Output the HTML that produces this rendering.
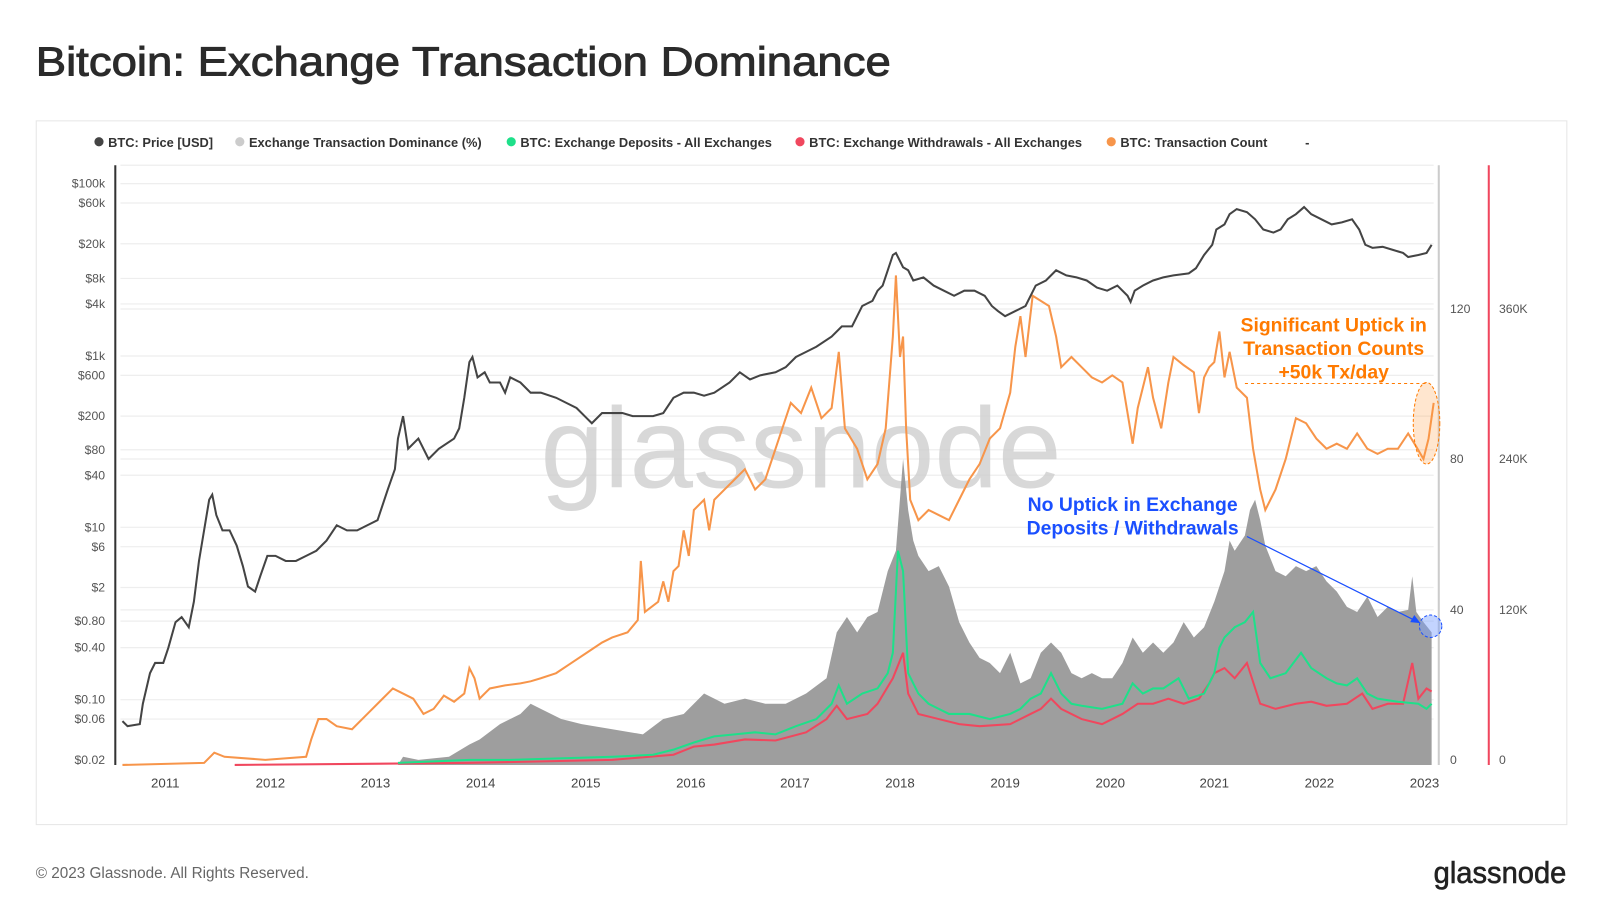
<!DOCTYPE html>
<html><head><meta charset="utf-8"><style>
html,body{margin:0;padding:0;background:#fff;width:1600px;height:921px;overflow:hidden}
svg{display:block}
text{font-family:"Liberation Sans",sans-serif}
</style></head><body>
<svg width="1600" height="921" viewBox="0 0 1568 903" preserveAspectRatio="none" xmlns="http://www.w3.org/2000/svg">
<text x="35" y="74" font-size="40" fill="#2b2b2b" stroke="#2b2b2b" stroke-width="0.9" textLength="838" lengthAdjust="spacingAndGlyphs">Bitcoin: Exchange Transaction Dominance</text>
<rect x="35.5" y="118.5" width="1500" height="690" fill="none" stroke="#e6e6e6"/>
<g font-size="12.6" font-weight="bold" fill="#333">
<circle cx="97" cy="139" r="4.5" fill="#444"/><text x="106" y="144">BTC: Price [USD]</text>
<circle cx="235" cy="139" r="4.5" fill="#ccc"/><text x="244" y="144">Exchange Transaction Dominance (%)</text>
<circle cx="501" cy="139" r="4.5" fill="#1ee08a"/><text x="510" y="144">BTC: Exchange Deposits - All Exchanges</text>
<circle cx="784" cy="139" r="4.5" fill="#f0475e"/><text x="793" y="144">BTC: Exchange Withdrawals - All Exchanges</text>
<circle cx="1089" cy="139" r="4.5" fill="#f7954a"/><text x="1098" y="144">BTC: Transaction Count</text>
<text x="1279" y="144">-</text>
</g>
<g stroke="#eeeeee" stroke-width="1.2">
<line x1="118" x2="1405" y1="162" y2="162"/>
<line x1="118" x2="1405" y1="180" y2="180"/><line x1="118" x2="1405" y1="199" y2="199"/><line x1="118" x2="1405" y1="239" y2="239"/><line x1="118" x2="1405" y1="273" y2="273"/><line x1="118" x2="1405" y1="298" y2="298"/><line x1="118" x2="1405" y1="349" y2="349"/><line x1="118" x2="1405" y1="368" y2="368"/><line x1="118" x2="1405" y1="408" y2="408"/><line x1="118" x2="1405" y1="441" y2="441"/><line x1="118" x2="1405" y1="466" y2="466"/><line x1="118" x2="1405" y1="517" y2="517"/><line x1="118" x2="1405" y1="536" y2="536"/><line x1="118" x2="1405" y1="576" y2="576"/><line x1="118" x2="1405" y1="609" y2="609"/><line x1="118" x2="1405" y1="635" y2="635"/><line x1="118" x2="1405" y1="686" y2="686"/><line x1="118" x2="1405" y1="705" y2="705"/>
<line x1="118" x2="1405" y1="303" y2="303"/><line x1="118" x2="1405" y1="450" y2="450"/><line x1="118" x2="1405" y1="598" y2="598"/>
</g>
<text x="785" y="478" font-size="112" fill="#cfcfcf" text-anchor="middle" opacity="0.8">glassnode</text>
<line x1="113" y1="162" x2="113" y2="750" stroke="#333" stroke-width="2"/>
<line x1="1410" y1="162" x2="1410" y2="750" stroke="#ccc" stroke-width="2"/>
<line x1="1459" y1="162" x2="1459" y2="750" stroke="#f0475e" stroke-width="2"/>
<g font-size="12" fill="#555" text-anchor="end">
<text x="103" y="184">$100k</text><text x="103" y="203">$60k</text><text x="103" y="243">$20k</text><text x="103" y="277">$8k</text><text x="103" y="302">$4k</text><text x="103" y="353">$1k</text><text x="103" y="372">$600</text><text x="103" y="412">$200</text><text x="103" y="445">$80</text><text x="103" y="470">$40</text><text x="103" y="521">$10</text><text x="103" y="540">$6</text><text x="103" y="580">$2</text><text x="103" y="613">$0.80</text><text x="103" y="639">$0.40</text><text x="103" y="690">$0.10</text><text x="103" y="709">$0.06</text><text x="103" y="749">$0.02</text>
</g>
<g font-size="12" fill="#555">
<text x="1421" y="307">120</text><text x="1421" y="454">80</text><text x="1421" y="602">40</text><text x="1421" y="749">0</text>
<text x="1469" y="307">360K</text><text x="1469" y="454">240K</text><text x="1469" y="602">120K</text><text x="1469" y="749">0</text>
</g>
<g font-size="13" fill="#444" text-anchor="middle">
<text x="162" y="772">2011</text><text x="265" y="772">2012</text><text x="368" y="772">2013</text><text x="471" y="772">2014</text><text x="574" y="772">2015</text><text x="677" y="772">2016</text><text x="779" y="772">2017</text><text x="882" y="772">2018</text><text x="985" y="772">2019</text><text x="1088" y="772">2020</text><text x="1190" y="772">2021</text><text x="1293" y="772">2022</text><text x="1396" y="772">2023</text>
</g>
<polygon fill="#999" opacity="0.95" points="390,750 395,742 410,745 440,742 460,730 470,725 490,710 510,700 520,690 530,695 550,705 570,710 600,715 630,720 650,705 670,700 690,680 710,690 730,685 750,690 770,690 790,680 810,665 820,620 830,605 840,620 850,605 860,600 870,560 878,540 885,450 890,500 895,530 900,545 910,560 920,555 930,575 940,610 950,630 960,645 970,650 980,660 990,640 1000,670 1010,665 1020,640 1030,630 1040,640 1050,660 1060,665 1070,660 1080,665 1090,665 1100,650 1110,625 1120,640 1130,630 1140,640 1150,630 1160,610 1170,625 1180,615 1190,590 1200,560 1205,530 1210,540 1220,525 1225,500 1230,490 1235,510 1240,535 1250,560 1260,565 1270,555 1280,560 1290,555 1300,570 1310,580 1320,595 1330,600 1340,585 1350,605 1360,595 1370,600 1380,598 1384,565 1388,600 1395,610 1403,620 1403,750"/>
<polyline fill="none" stroke="#f0475e" stroke-width="2" points="230,750 460,748 600,745 660,740 680,732 700,730 730,725 760,726 790,718 810,705 820,692 830,705 850,700 860,690 875,665 885,640 890,680 900,700 920,705 940,710 960,712 990,710 1010,700 1020,695 1030,685 1040,695 1060,705 1080,710 1100,700 1115,690 1130,690 1145,685 1160,690 1175,685 1185,670 1190,660 1200,655 1210,665 1222,650 1235,690 1250,695 1270,690 1285,688 1300,692 1320,690 1335,680 1345,695 1360,690 1375,690 1384,650 1390,685 1398,675 1403,678"/>
<polyline fill="none" stroke="#1ee08a" stroke-width="2" points="390,748 460,745 500,745 600,742 640,740 660,735 680,728 700,722 720,720 740,718 760,720 780,712 800,705 815,690 822,672 830,690 845,680 860,675 870,660 875,640 880,540 885,560 890,660 900,680 910,690 920,695 930,700 950,700 970,705 990,700 1000,695 1010,685 1020,680 1030,660 1040,680 1050,690 1060,692 1080,695 1100,690 1110,670 1120,680 1130,675 1140,675 1155,665 1165,685 1180,680 1190,660 1195,635 1200,625 1210,615 1220,610 1228,600 1235,650 1245,665 1260,660 1275,640 1285,655 1300,665 1310,670 1320,672 1330,665 1340,680 1350,685 1370,688 1390,690 1398,695 1403,690"/>
<polyline fill="none" stroke="#f7954a" stroke-width="2" points="120,750 200,748 210,738 220,742 260,745 300,742 305,725 312,705 320,705 330,712 345,715 360,700 375,685 385,675 395,680 405,685 415,700 425,695 435,682 445,688 455,680 460,655 465,665 470,685 480,675 495,672 510,670 520,668 530,665 545,660 560,650 575,640 590,630 600,625 615,620 625,608 628,550 632,600 645,590 650,570 655,590 660,560 665,555 670,520 675,545 680,500 690,490 695,520 700,490 710,480 720,470 730,460 740,480 750,470 760,440 770,410 775,395 785,405 795,380 805,410 815,400 822,345 828,420 840,440 850,470 860,455 868,420 875,330 878,270 882,350 885,330 888,420 892,490 900,510 910,500 920,505 930,510 940,490 950,470 960,455 970,430 980,420 990,385 995,340 1000,310 1005,350 1012,290 1020,295 1028,300 1035,330 1040,360 1050,350 1060,360 1070,370 1080,375 1090,368 1100,375 1110,435 1115,400 1125,360 1130,390 1138,420 1145,375 1150,350 1160,358 1170,365 1175,405 1180,370 1185,360 1190,355 1195,325 1200,370 1205,345 1212,380 1222,390 1228,440 1235,480 1240,500 1250,480 1260,450 1270,410 1280,415 1290,430 1300,440 1310,435 1320,440 1330,425 1340,440 1350,445 1360,440 1370,440 1380,425 1388,438 1395,450 1400,430 1405,395"/>
<polyline fill="none" stroke="#444" stroke-width="2" points="120,707 125,712 137,710 140,690 147,660 152,650 160,650 165,635 172,610 178,605 185,615 190,590 195,550 200,520 205,490 208,485 212,505 218,520 225,520 232,535 238,555 243,575 250,580 255,565 262,545 270,545 280,550 290,550 300,545 310,540 320,530 330,515 340,520 350,520 360,515 370,510 380,480 387,460 390,430 395,408 400,440 410,430 420,450 430,440 445,430 450,420 455,390 460,355 463,350 468,370 475,365 480,375 490,375 495,385 500,370 510,375 520,385 530,385 545,390 555,395 565,400 575,410 580,415 590,405 600,405 610,405 620,408 640,408 650,405 660,390 670,385 680,385 690,388 700,385 715,375 725,365 735,372 745,368 760,365 770,360 780,350 790,345 800,340 815,330 825,320 835,320 845,300 855,295 860,285 865,280 870,265 875,250 878,248 885,262 890,265 895,275 905,272 915,280 925,285 935,290 945,285 955,285 965,290 972,300 978,305 985,310 995,305 1005,300 1015,280 1025,275 1035,265 1045,270 1055,272 1065,275 1075,282 1085,285 1095,280 1105,290 1108,296 1112,285 1120,280 1130,275 1140,272 1150,270 1165,268 1172,263 1180,250 1188,240 1192,225 1200,220 1205,210 1212,205 1222,208 1230,215 1238,225 1248,228 1255,225 1262,215 1270,210 1278,203 1285,210 1295,215 1305,220 1315,218 1325,215 1332,225 1338,240 1345,243 1355,242 1365,245 1375,248 1380,252 1390,250 1398,248 1403,240"/>
<g font-size="19" font-weight="bold" fill="#ff7a00" text-anchor="middle">
<text x="1307" y="325">Significant Uptick in</text><text x="1307" y="348">Transaction Counts</text><text x="1307" y="371">+50k Tx/day</text>
</g>
<line x1="1220" y1="376" x2="1400" y2="376" stroke="#ff7a00" stroke-dasharray="3,3"/>
<ellipse cx="1398" cy="415" rx="13" ry="40" fill="#ff9a40" fill-opacity="0.25" stroke="#ff7a00" stroke-dasharray="3,2"/>
<g font-size="19" font-weight="bold" fill="#1a4fff" text-anchor="middle">
<text x="1110" y="501">No Uptick in Exchange</text><text x="1110" y="524">Deposits / Withdrawals</text>
</g>
<line x1="1222" y1="526" x2="1390" y2="610" stroke="#1a4fff" stroke-width="1.2"/>
<polygon points="1392,611 1382,610 1386,603" fill="#1a4fff"/>
<circle cx="1402" cy="614" r="11" fill="#7aa0ff" fill-opacity="0.45" stroke="#1a4fff" stroke-dasharray="3,2"/>
<text x="35" y="861" font-size="15" fill="#666">© 2023 Glassnode. All Rights Reserved.</text>
<text x="1535" y="866" font-size="30" fill="#222" stroke="#222" stroke-width="0.6" text-anchor="end" textLength="130" lengthAdjust="spacingAndGlyphs">glassnode</text>
</svg>
</body></html>
